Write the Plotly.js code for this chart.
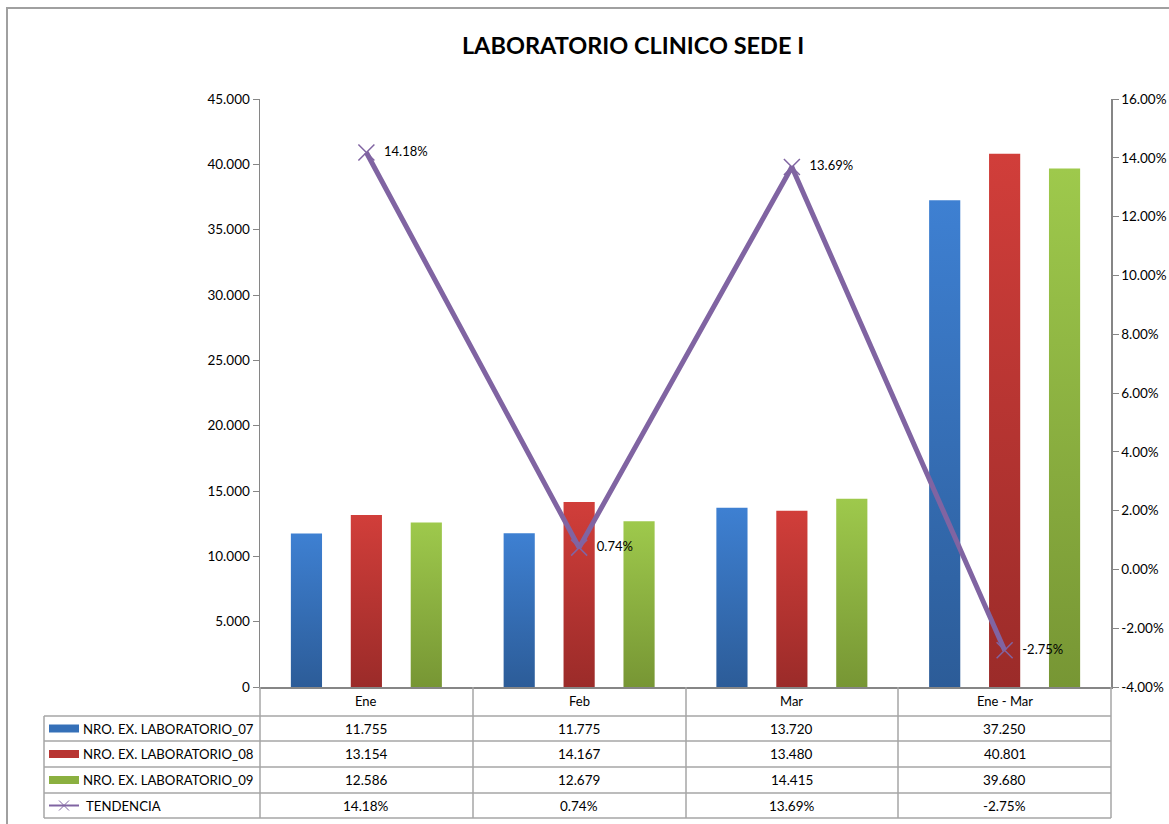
<!DOCTYPE html>
<html>
<head>
<meta charset="utf-8">
<script src="https://cdn.plot.ly/plotly-3.0.1.min.js"></script>
<style>
html,body{margin:0;padding:0;background:#fff;}
#chart{width:1169px;height:824px;}
</style>
</head>
<body>
<div id="chart"></div>
<script>
// ---- data ----
const categories = ["Ene", "Feb", "Mar", "Ene - Mar"];
const seriesNames = ["NRO. EX. LABORATORIO_07", "NRO. EX. LABORATORIO_08", "NRO. EX. LABORATORIO_09", "TENDENCIA"];
const lab07 = [11755, 11775, 13720, 37250];
const lab08 = [13154, 14167, 13480, 40801];
const lab09 = [12586, 12679, 14415, 39680];
const tendencia = [14.18, 0.74, 13.69, -2.75];
const leftTicks = [0, 5000, 10000, 15000, 20000, 25000, 30000, 35000, 40000, 45000];
const rightTicks = [-4, -2, 0, 2, 4, 6, 8, 10, 12, 14, 16];

// ---- styling ----
const W = 1169, H = 824;
const M = {l: 260, r: 58, t: 99, b: 137};
const PW = W - M.l - M.r, PH = H - M.t - M.b;
const px = x => (x - M.l) / PW;
const py = y => (H - M.b - y) / PH;
const FONT = "Lato, 'Liberation Sans', sans-serif";
const GRID = "#a6a6a6";
const colors = ["#3570b8", "#b83532", "#8bb040", "#8064a2"];
const grads = [["#3e80d2", "#2c5c98"], ["#d13e3a", "#9b2b29"], ["#9ec94c", "#779634"]];

const fmtThousands = n => String(n).replace(/\B(?=(\d{3})+(?!\d))/g, ".");
const fmtPct = v => v.toFixed(2) + "%";

const barSeries = [lab07, lab08, lab09];
const traces = barSeries.map((vals, i) => ({
  type: "bar", name: seriesNames[i], x: categories, y: vals,
  marker: {color: colors[i]}, hoverinfo: "skip"
}));
traces.push({
  type: "scatter", mode: "lines+markers+text", name: seriesNames[3],
  x: categories, y: tendencia, yaxis: "y2",
  line: {color: colors[3], width: 5},
  marker: {symbol: "x-thin", size: 16, line: {color: colors[3], width: 1.5}},
  text: tendencia.map(v => "\u00a0\u00a0" + fmtPct(v)), textposition: "middle right",
  textfont: {family: FONT, size: 13, color: "#000"}, cliponaxis: false, hoverinfo: "skip"
});

const shapes = [];
const annotations = [];

// outer border
shapes.push({type: "rect", xref: "paper", yref: "paper", x0: px(7), x1: px(1180), y0: py(836), y1: py(8),
  line: {color: "#a0a0a0", width: 2}});

// table geometry
const colX = [260, 473, 686, 898, 1111];
const rowY = [716, 741, 767, 793, 818];
const tblLeft = 44;
colX.forEach(x => shapes.push({type: "line", xref: "paper", yref: "paper", x0: px(x), x1: px(x), y0: py(687), y1: py(818),
  line: {color: GRID, width: 1.5}}));
shapes.push({type: "line", xref: "paper", yref: "paper", x0: px(tblLeft), x1: px(tblLeft), y0: py(716), y1: py(818),
  line: {color: GRID, width: 1.5}});
rowY.forEach(y => shapes.push({type: "line", xref: "paper", yref: "paper", x0: px(tblLeft), x1: px(1111), y0: py(y), y1: py(y),
  line: {color: GRID, width: 1.5}}));

// header row labels
categories.forEach(c => annotations.push({xref: "x", yref: "paper", x: c, y: py(701), xanchor: "center", yanchor: "middle",
  text: c, showarrow: false, font: {family: FONT, size: 13, color: "#000"}}));

// data rows
const rowVals = [lab07.map(fmtThousands), lab08.map(fmtThousands), lab09.map(fmtThousands), tendencia.map(fmtPct)];
rowVals.forEach((vals, r) => {
  const yc = (rowY[r] + rowY[r + 1]) / 2;
  vals.forEach((v, c) => annotations.push({xref: "x", yref: "paper", x: categories[c], y: py(yc), xanchor: "center",
    yanchor: "middle", text: v, showarrow: false, font: {family: FONT, size: 13.5, color: "#000"}}));
  annotations.push({xref: "paper", yref: "paper", x: px(r < 3 ? 81 : 84), y: py(yc), xanchor: "left", yanchor: "middle",
    text: seriesNames[r], showarrow: false, font: {family: FONT, size: 13.2, color: "#000"}});
  if (r < 3) {
    shapes.push({type: "rect", xref: "paper", yref: "paper", x0: px(49), x1: px(79), y0: py(yc + 4), y1: py(yc - 4),
      fillcolor: colors[r], line: {width: 0}});
  } else {
    shapes.push({type: "line", xref: "paper", yref: "paper", x0: px(49), x1: px(79), y0: py(yc), y1: py(yc),
      line: {color: colors[3], width: 2}});
    shapes.push({type: "line", xref: "paper", yref: "paper", x0: px(59), x1: px(69), y0: py(yc - 5), y1: py(yc + 5),
      line: {color: colors[3], width: 1}});
    shapes.push({type: "line", xref: "paper", yref: "paper", x0: px(59), x1: px(69), y0: py(yc + 5), y1: py(yc - 5),
      line: {color: colors[3], width: 1}});
  }
});

const layout = {
  width: W, height: H, margin: M, paper_bgcolor: "#fff", plot_bgcolor: "#fff",
  separators: ",.",
  showlegend: false,
  barmode: "group", bargap: 0.155, bargroupgap: 0.48,
  font: {family: FONT, size: 13, color: "#000"},
  title: {text: "<b>LABORATORIO CLINICO SEDE I</b>", x: 0.5415, xanchor: "center", y: 1 - 46 / H, yanchor: "middle",
    font: {family: FONT, size: 23.5, color: "#000"}},
  xaxis: {type: "category", categoryorder: "array", categoryarray: categories, showticklabels: false,
    showgrid: false, zeroline: false, showline: true, linecolor: "#868686", linewidth: 2, ticks: "", fixedrange: true},
  yaxis: {range: [0, 45000], tickvals: leftTicks, tickformat: ",d", ticks: "outside", ticklen: 6, tickcolor: "#868686",
    showline: true, linecolor: "#868686", linewidth: 1.5, showgrid: false, zeroline: false,
    tickfont: {family: FONT, size: 13.5, color: "#000"}},
  yaxis2: {overlaying: "y", side: "right", range: [-4, 16], tickvals: rightTicks, ticktext: rightTicks.map(fmtPct),
    ticks: "outside", ticklen: 6, tickcolor: "#868686", showline: true, linecolor: "#868686", linewidth: 1.5,
    showgrid: false, zeroline: false, tickfont: {family: FONT, size: 13.5, color: "#000"}},
  shapes: shapes, annotations: annotations
};

Plotly.newPlot("chart", traces, layout, {displayModeBar: false, staticPlot: true}).then(gd => {
  const svg = gd.querySelector("svg.main-svg");
  const ns = "http://www.w3.org/2000/svg";
  let defs = svg.querySelector("defs");
  if (!defs) { defs = document.createElementNS(ns, "defs"); svg.insertBefore(defs, svg.firstChild); }
  grads.forEach((g, i) => {
    const lg = document.createElementNS(ns, "linearGradient");
    lg.setAttribute("id", "bargrad" + i);
    lg.setAttribute("x1", "0"); lg.setAttribute("y1", "0"); lg.setAttribute("x2", "0"); lg.setAttribute("y2", "1");
    [[0, g[0]], [1, g[1]]].forEach(([o, c]) => {
      const s = document.createElementNS(ns, "stop");
      s.setAttribute("offset", o); s.setAttribute("stop-color", c);
      lg.appendChild(s);
    });
    defs.appendChild(lg);
  });
  gd.querySelectorAll(".barlayer .trace").forEach((t, i) => {
    t.querySelectorAll(".point path").forEach(p => { p.style.fill = "url(#bargrad" + i + ")"; });
  });
});
</script>
</body>
</html>
